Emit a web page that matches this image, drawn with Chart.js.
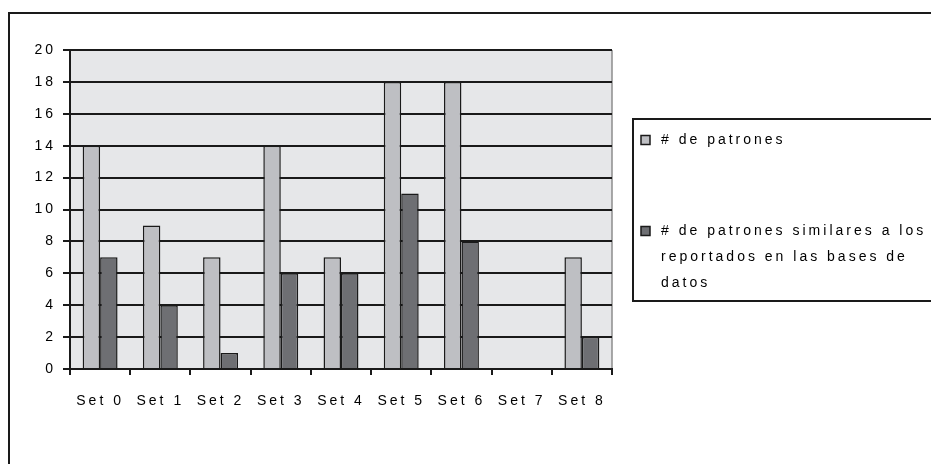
<!DOCTYPE html>
<html>
<head>
<meta charset="utf-8">
<script src="https://cdn.jsdelivr.net/npm/chart.js@4/dist/chart.umd.min.js"></script>
<style>
  body { margin: 0; background: #fff; }
  canvas { display: block; }
</style>
</head>
<body>
<canvas id="chart" width="931" height="464"></canvas>
<script>
var categories = ["Set 0", "Set 1", "Set 2", "Set 3", "Set 4", "Set 5", "Set 6", "Set 7", "Set 8"];
var patrones = [14, 9, 7, 14, 7, 18, 18, null, 7];
var similares = [7, 4, 1, 6, 6, 11, 8, null, 2];
var legendLabels = ["# de patrones", "# de patrones similares a los reportados en las bases de datos"];
var legendLines = [["# de patrones"], ["# de patrones similares a los", "reportados en las bases de", "datos"]];
var barColors = ["#bebfc3", "#6e6f73"];

var FONT = "14px 'Liberation Sans', Arial, sans-serif";

// letter spacing like the old excel picture
var spacing = {
  id: "spacing",
  beforeUpdate: function(chart) { chart.ctx.letterSpacing = "3px"; },
  beforeDraw: function(chart) { chart.ctx.letterSpacing = "3px"; }
};

var frame = {
  id: "frame",
  beforeDraw: function(chart) {
    var ctx = chart.ctx, a = chart.chartArea;
    ctx.save();
    ctx.fillStyle = "#e6e7e9";
    ctx.fillRect(a.left, a.top, a.right - a.left, a.bottom - a.top);
    ctx.strokeStyle = "#8c8c8c";
    ctx.lineWidth = 1.5;
    ctx.beginPath();
    ctx.moveTo(a.right, a.top);
    ctx.lineTo(a.right, a.bottom);
    ctx.stroke();
    ctx.restore();
  },
  afterDraw: function(chart) {
    var ctx = chart.ctx;
    ctx.save();
    ctx.strokeStyle = "#1a1a1a";
    ctx.lineWidth = 2;
    ctx.strokeRect(9, 13, 940, 470);
    ctx.strokeRect(633, 119, 310, 182);
    // legend
    ctx.font = FONT;
    ctx.letterSpacing = "3px";
    ctx.textBaseline = "middle";
    ctx.textAlign = "left";
    var ys = [140, 231];
    for (var i = 0; i < legendLines.length; i++) {
      ctx.fillStyle = barColors[i];
      ctx.fillRect(641, ys[i] - 4.5, 9, 9);
      ctx.lineWidth = 1.5;
      ctx.strokeStyle = "#1a1a1a";
      ctx.strokeRect(641, ys[i] - 4.5, 9, 9);
      ctx.fillStyle = "#000";
      for (var j = 0; j < legendLines[i].length; j++) {
        ctx.fillText(legendLines[i][j], 661, ys[i] + j * 26);
      }
    }
    ctx.restore();
  }
};

new Chart(document.getElementById("chart"), {
  type: "bar",
  data: {
    labels: categories,
    datasets: [{
      label: legendLabels[0],
      data: patrones,
      backgroundColor: barColors[0],
      borderColor: "#1a1a1a",
      borderWidth: 1.5
    }, {
      label: legendLabels[1],
      data: similares,
      backgroundColor: barColors[1],
      borderColor: "#1a1a1a",
      borderWidth: 1.5
    }]
  },
  options: {
    responsive: false,
    animation: false,
    devicePixelRatio: 1,
    layout: { padding: { left: 0, top: 50, right: 319, bottom: 0 } },
    datasets: { bar: { categoryPercentage: 0.58, barPercentage: 1 } },
    plugins: {
      legend: { display: false },
      tooltip: { enabled: false }
    },
    scales: {
      x: {
        afterFit: function(s) { s.height = 95; },
        grid: { drawOnChartArea: false, drawTicks: true, tickLength: 6, color: "#1a1a1a", lineWidth: 2, offset: true },
        border: { color: "#1a1a1a", width: 2 },
        ticks: { color: "#000", font: { family: "'Liberation Sans', Arial, sans-serif", size: 14 }, padding: 18, maxRotation: 0 }
      },
      y: {
        min: 0,
        max: 20,
        afterFit: function(s) { s.width = 70; },
        grid: { color: "#1a1a1a", lineWidth: 2, tickLength: 7 },
        border: { color: "#1a1a1a", width: 2 },
        ticks: { stepSize: 2, color: "#000", font: { family: "'Liberation Sans', Arial, sans-serif", size: 14 }, padding: 7 }
      }
    }
  },
  plugins: [spacing, frame]
});
</script>
</body>
</html>
